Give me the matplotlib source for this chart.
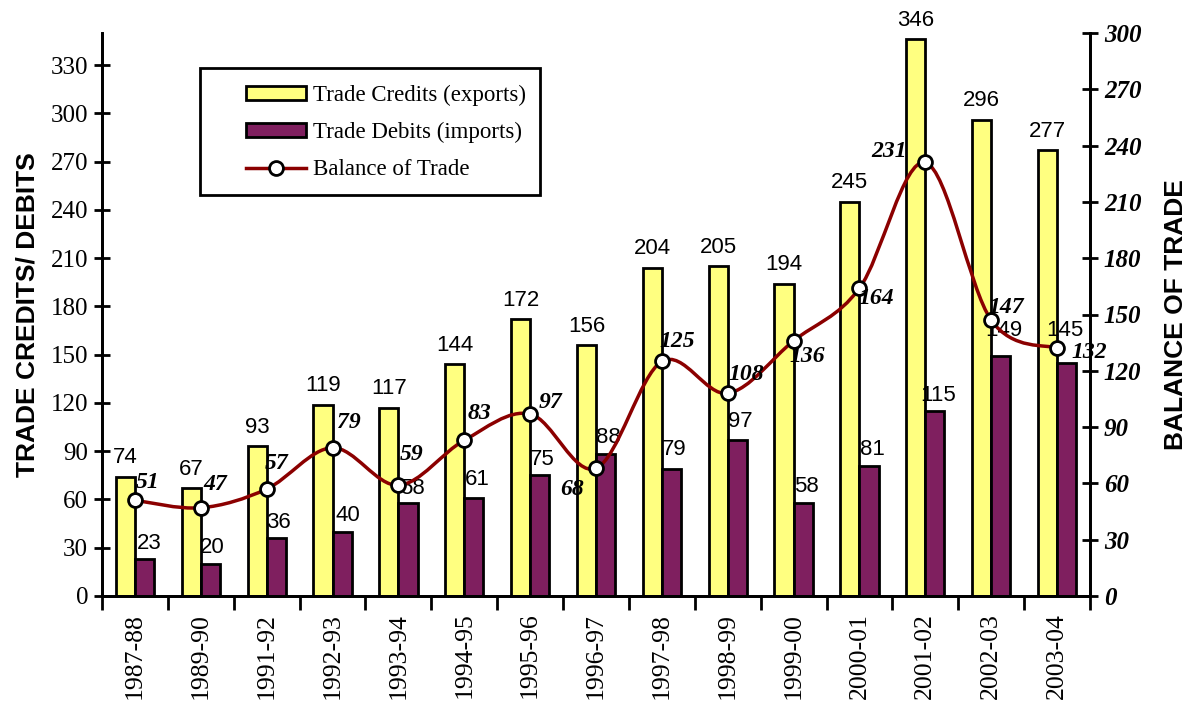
import numpy as np
import matplotlib
matplotlib.use('Agg')
import matplotlib.pyplot as plt
from matplotlib.path import Path
from matplotlib.patches import PathPatch, Rectangle, Patch
from matplotlib.lines import Line2D

###########
# The data
###########
years = ['1987-88', '1989-90', '1991-92', '1992-93', '1993-94', '1994-95', '1995-96',
         '1996-97', '1997-98', '1998-99', '1999-00', '2000-01', '2001-02', '2002-03', '2003-04']
exports = [74, 67, 93, 119, 117, 144, 172, 156, 204, 205, 194, 245, 346, 296, 277]
imports = [23, 20, 36, 40, 58, 61, 75, 88, 79, 97, 58, 81, 115, 149, 145]
balance = [51, 47, 57, 79, 59, 83, 97, 68, 125, 108, 136, 164, 231, 147, 132]

# where each balance label sits relative to its marker (pixels, right / up)
bal_offsets = [(13, 18), (14, 23), (10, 26), (16, 25), (13, 31), (15, 27), (20, 11), (-24, -21),
               (15, 20), (19, 19), (14, -16), (17, -10), (-36, 11), (15, 13), (32, -4)]
imp_offsets = [(5, 16), (2, 16), (2, 16), (6, 16), (4, 14), (3, 18), (3, 16), (3, 17),
               (3, 19), (3, 18), (3, 16), (3, 16), (3, 16), (3, 26), (-2, 32)]

YELLOW = '#FFFF80'
PLUM = '#7F1F5F'
LINE = '#8B0000'
serif = 'Liberation Serif'
sans = 'Liberation Sans'

fig = plt.figure(figsize=(11.88, 7.04), dpi=100)
ax = fig.add_axes([102/1188, 1-596/704, (1090-102)/1188, (596-33)/704])
ax2 = ax.twinx()

x = np.arange(len(years))
w = 0.29
ax.bar(x - w/2, exports, w, color=YELLOW, edgecolor='black', linewidth=2, zorder=2)
ax.bar(x + w/2, imports, w, color=PLUM, edgecolor='black', linewidth=2, zorder=2)

for xi, v in zip(x, exports):
    ax.annotate(str(v), (xi - w/2, v), xytext=(0, 19), textcoords='offset pixels',
                ha='center', va='center', fontsize=16, family=sans)
for xi, v, (dx, dy) in zip(x, imports, imp_offsets):
    ax.annotate(str(v), (xi + w/2, v), xytext=(dx, dy), textcoords='offset pixels',
                ha='center', va='center', fontsize=16, family=sans)

ax.set_xlim(-0.5, len(years) - 0.5)
ax.set_ylim(0, 350)
ax.set_yticks(np.arange(0, 331, 30))
ax2.set_ylim(0, 300)
ax2.set_yticks(np.arange(0, 301, 30))

# smoothed balance line (Catmull-Rom style bezier, like Excel)
pts = np.column_stack([x, balance]).astype(float)
ext = np.vstack([pts[0], pts, pts[-1]])
verts = [tuple(pts[0])]
codes = [Path.MOVETO]
for i in range(len(pts) - 1):
    p0, p1, p2, p3 = ext[i], ext[i+1], ext[i+2], ext[i+3]
    verts += [tuple(p1 + (p2 - p0) / 6), tuple(p2 - (p3 - p1) / 6), tuple(p2)]
    codes += [Path.CURVE4] * 3
ax2.add_patch(PathPatch(Path(verts, codes), facecolor='none', edgecolor=LINE, lw=2.5, zorder=3))
ax2.plot(x, balance, 'o', ms=10, mfc='white', mec='black', mew=2, zorder=4)

for xi, v, (dx, dy) in zip(x, balance, bal_offsets):
    ax2.annotate(str(v), (xi, v), xytext=(dx, dy), textcoords='offset pixels',
                 ha='center', va='center', fontsize=17, family=serif,
                 fontweight='bold', fontstyle='italic', zorder=5)

# axes styling
for a in (ax, ax2):
    a.spines['top'].set_visible(False)
    for s in ('left', 'right', 'bottom'):
        a.spines[s].set_linewidth(2)
ax.set_xticks(x)
ax.set_xticklabels(years, rotation=90, fontsize=18.5, family=serif)
ax.set_xticks(np.arange(-0.5, len(years)), minor=True)
ax.tick_params(axis='x', which='major', length=0, pad=12)
ax.tick_params(axis='x', which='minor', length=10, width=2, direction='out')
ax.tick_params(axis='y', length=12, width=2, direction='inout', pad=4)
for lab in ax.get_yticklabels():
    lab.set_fontsize(18)
    lab.set_family(serif)
ax2.tick_params(axis='y', length=12, width=2, direction='inout', pad=4)
for lab in ax2.get_yticklabels():
    lab.set_fontsize(18)
    lab.set_family(serif)
    lab.set_fontweight('bold')
    lab.set_fontstyle('italic')

ax.set_ylabel('TRADE CREDITS/ DEBITS', fontsize=19, family=sans, fontweight='bold', labelpad=8)
ax2.set_ylabel('BALANCE OF TRADE', fontsize=19, family=sans, fontweight='bold', labelpad=16)

# legend
handles = [Patch(facecolor=YELLOW, edgecolor='black', lw=2),
           Patch(facecolor=PLUM, edgecolor='black', lw=2),
           Line2D([], [], color=LINE, lw=2.5, marker='o', ms=10, mfc='white', mec='black', mew=2)]
labels = ['Trade Credits (exports)', 'Trade Debits (imports)', 'Balance of Trade']
leg = ax2.legend(handles, labels, loc='upper left', bbox_to_anchor=(0.125, 0.945),
                 frameon=False, prop={'family': serif, 'size': 16.5},
                 handlelength=2.6, handleheight=0.55, handletextpad=0.3, labelspacing=0.7)
leg.set_zorder(10)
ax2.add_patch(Rectangle((98/988, (596-195)/563), (540-200)/988, (195-68)/563,
                        transform=ax2.transAxes, facecolor='white', edgecolor='black',
                        lw=2, zorder=9, clip_on=False))

fig.savefig('out.png', dpi=100)
